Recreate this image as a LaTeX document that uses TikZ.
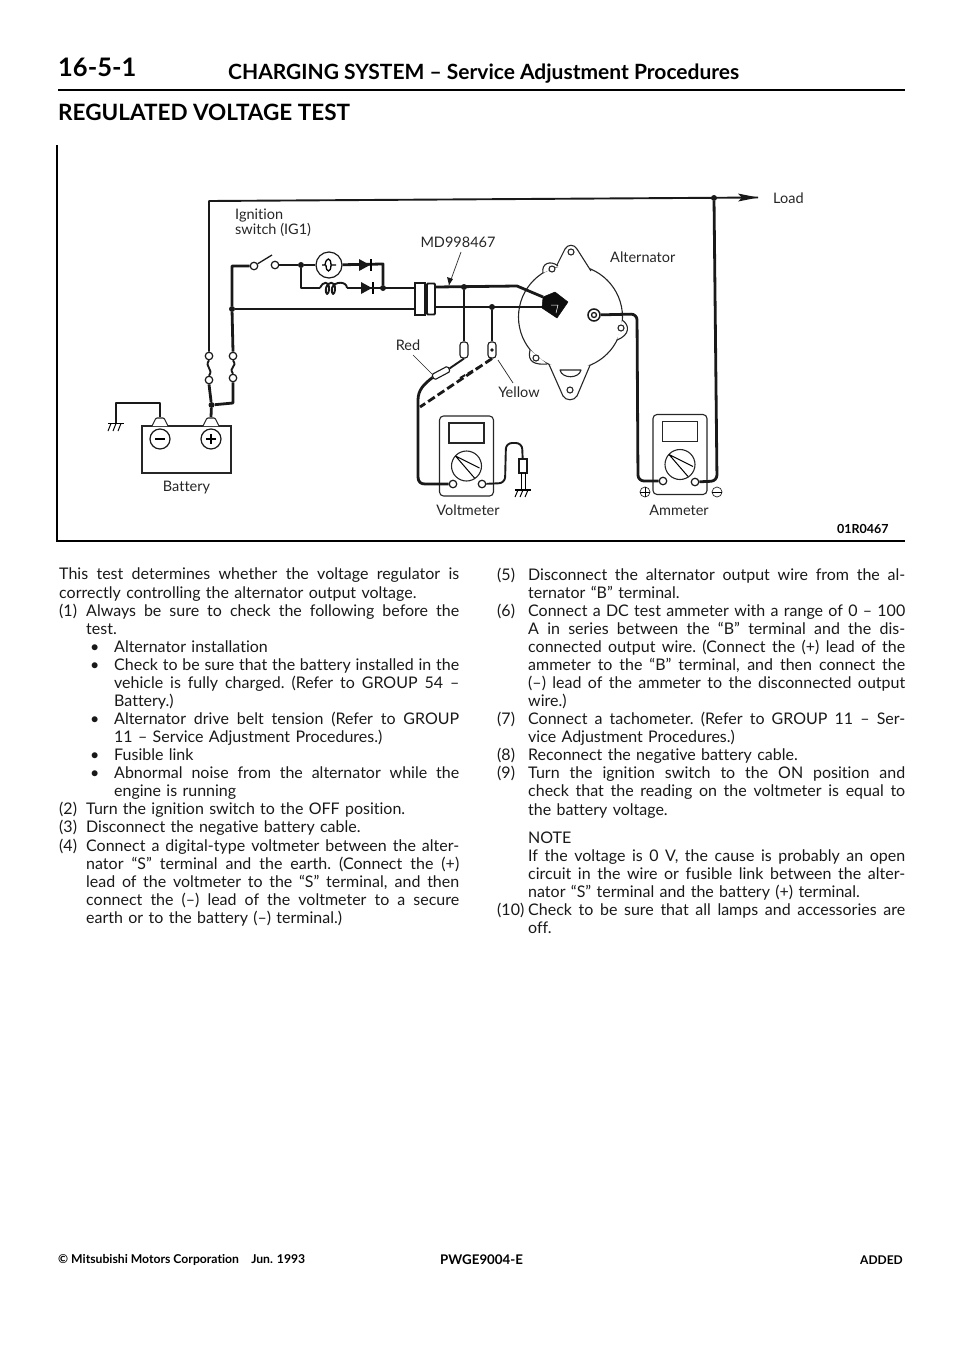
\documentclass[tikz,border=0pt]{standalone}
\usepackage{fontspec}
\setmainfont{Lato}[Ligatures={TeX,NoCommon}]
\usetikzlibrary{positioning,arrows.meta}
\newcommand{\bodyWidthA}{400pt}
\newcommand{\bodyWidthB}{408pt}
\newcommand{\looseSpace}{\spaceskip=.27em plus 2em minus .06em\xspaceskip=\spaceskip\relax}
% one printed line, stretched to the column or left loose
\newcommand{\jl}[2]{\hbox to \hsize{\looseSpace\hskip #1pt #2}}
\newcommand{\rl}[2]{\hbox to \hsize{\hskip #1pt #2\hfil}}
\newcommand{\numA}[1]{\makebox[27pt][l]{#1}}
\newcommand{\numB}[1]{\makebox[31pt][l]{#1}}
\newcommand{\bul}{\makebox[28pt][l]{\hskip4pt\textbullet}}
\newcommand{\ear}[1]{\fill[white] #1 -- cycle; \draw[outline] #1;}
\tikzset{
	wire/.style={line width=1.9pt, black!90, line join=round},
	heavywire/.style={line width=2.8pt, black!90, line join=round},
	thinline/.style={line width=.7pt, black!85},
	outline/.style={line width=1.1pt, black!85, line join=round},
	term/.style={circle, draw=black!90, fill=white, line width=1.2pt, minimum size=7.5pt, inner sep=0pt},
	junction/.style={circle, fill=black!90, minimum size=6pt, inner sep=0pt},
	tag/.style={font=\fontsize{14.5}{14.5}\selectfont, inner sep=0pt, black!85},
	printed/.style={inner sep=0pt, anchor=west, font=\bfseries\fontsize{#1}{#1}\selectfont},
	meterbox/.style={draw=black!85, line width=1.1pt, rounded corners=4pt, minimum width=54pt, minimum height=80pt, inner sep=0pt},
	display/.style={draw=black!85, line width=1.1pt, minimum width=35pt, minimum height=20pt, inner sep=0pt},
	dial/.style={circle, draw=black!85, line width=1.1pt, minimum size=30pt, inner sep=0pt},
	hole/.style={circle, draw=black!85, line width=1.1pt, fill=white, minimum size=6pt, inner sep=0pt},
	sign/.style={circle, draw=black!85, line width=.7pt, minimum size=10pt, inner sep=0pt},
	batsign/.style={circle, draw=black!90, line width=1.2pt, minimum size=20pt, inner sep=0pt},
	probe/.style={draw=black!90, fill=white, line width=1.1pt, rounded corners=3pt, rotate=90, minimum width=16pt, minimum height=8pt, inner sep=0pt},
	column/.style={inner sep=0pt, anchor=north west, text width=#1, font=\fontsize{16}{18.07}\selectfont, black!90},
}
\begin{document}
\begin{tikzpicture}[x=1pt, y=-1pt]
	\useasboundingbox (0,0) rectangle (960,1358);

	% page head
	\node[printed=25.5] (pageNo) at (58,67) {16-5-1};
	\node[printed=21] (headA) at (228,74) {CHARGING SYSTEM -- Service Adjustment Procedures};
	\coordinate (ruleL) at (58,90);
	\coordinate (ruleR) at (905,90);
	\draw[line width=2.2pt] (ruleL) -- (ruleR);
	\node[printed=22.5] (headB) at (58,112) {REGULATED VOLTAGE TEST};

	% frame of the figure
	\coordinate (frameT) at (57,145);
	\coordinate (frameC) at (57,541);
	\coordinate (frameR) at (905,541);
	\draw[line width=1.4pt] (frameT) -- (frameC) -- (frameR);
	\node[printed=12.5] (figNo) at (837,529) {01R0467};

	% battery
	\node[draw=black!85, line width=1.1pt, minimum width=89pt, minimum height=47pt, inner sep=0pt] (battery) at (186.5,449.5) {};
	\node[batsign] (batNeg) at (160,439) {};
	\node[batsign] (batPos) at (211,439) {};
	\draw[line width=1.4pt] (155,439) -- (165,439);
	\draw[line width=1.4pt] (206,439) -- (216,439) (211,434) -- (211,444);
	\foreach \tname/\tx in {tNeg/160, tPos/211}{
		\coordinate (\tname) at (\tx,417);
		\draw[thinline, line width=1.1pt, fill=white, rounded corners=1pt] (\tx-8,426) -- (\tx-4,418) -- (\tx+4,418) -- (\tx+8,426);
	}
	\node[tag, below=7pt of battery] (batteryLabel) {Battery};

	% earth at the battery
	\coordinate (eaTop) at (160,403);
	\coordinate (ebTop) at (116,403);
	\coordinate (earthA) at (116,423);
	\draw[wire] (tNeg) -- (eaTop) -- (ebTop) -- (earthA);
	\draw[line width=1.1pt] (108,423.5) -- (124,423.5);
	\foreach \ex in {111,116,121}{
		\draw[line width=1pt] (\ex,423.5) -- (\ex-3,431);
	}

	% fuses
	\node[term] (fuseA1) at (209,356) {};
	\node[term] (fuseA2) at (209,380) {};
	\node[term] (fuseB1) at (233,356) {};
	\node[term] (fuseB2) at (233,378) {};
	\draw[wire] (fuseA1.south) .. controls +(-5,7) and +(5,-7) .. (fuseA2.north);
	\draw[wire] (fuseB1.south) .. controls +(5,7) and +(-5,-7) .. (fuseB2.north);
	\node[junction] (batJoin) at (211.5,405) {};
	\coordinate (fuseBCorner) at (233,403);
	\draw[heavywire] (fuseA2.south) -- (batJoin) -- (tPos);
	\draw[heavywire] (fuseB2.south) -- (fuseBCorner) -- (batJoin);

	% main line to the load
	\coordinate (mainCorner) at (209,201);
	\coordinate (loadEnd) at (758,197.5);
	\node[junction] (loadJoin) at (714,198) {};
	\draw[wire] (fuseA1.north) -- (mainCorner) -- (loadEnd);
	\fill[black!90] (758,197.5) -- (738,193.5) -- (742,197.7) -- (738,201.5) -- cycle;
	\node[tag, anchor=west] (loadLabel) at (773,198) {Load};

	% ignition switch and charge lamp
	\node[tag, anchor=west, align=left] (ignLabel) at (235,223) {Ignition\\switch (IG1)};
	\coordinate (ignCorner) at (232,266);
	\node[junction] (lineJoin) at (232,309) {};
	\node[term] (swA) at (254,266) {};
	\node[term] (swB) at (275,265) {};
	\coordinate (swTip) at (272,255);
	\draw[heavywire] (fuseB1.north) -- (lineJoin) -- (ignCorner) -- (swA);
	\draw[wire, line width=1.3pt] (swA) -- (swTip);
	\node[junction] (lampJoin) at (301,265) {};
	\node[circle, draw=black!90, line width=1.2pt, minimum size=26pt, inner sep=0pt] (lamp) at (329,265) {};
	\draw[line width=1.3pt] (322,265) -- (325,265) .. controls (326,257) and (331,257) .. (331,265) .. controls (331,273) and (326,273) .. (326,265) (331,265) -- (336,265);
	\coordinate (diodeCorner) at (383,264);
	\node[junction] (diodeJoin) at (383,288) {};
	\draw[heavywire] (swB) -- (lampJoin) -- (lamp);
	\draw[heavywire] (lamp) -- (diodeCorner) -- (diodeJoin);
	\coordinate (coilCorner) at (301,288);
	\coordinate (coilA) at (320,288);
	\coordinate (coilB) at (347,288);
	\draw[heavywire] (lampJoin) -- (coilCorner) -- (coilA);
	\draw[wire] (coilA) .. controls (323,281) and (329,281) .. (329,288) .. controls (329,296) and (325,296) .. (326,288)
		.. controls (328,281) and (335,281) .. (335,288) .. controls (335,296) and (331,296) .. (332,288)
		.. controls (334,281) and (347,281) .. (coilB);
	\foreach \dname/\dx/\dy in {dUp/365/265, dLow/367/288}{
		\coordinate (\dname) at (\dx,\dy);
		\fill[black!90] (\dx-6,\dy-6) -- (\dx+5,\dy) -- (\dx-6,\dy+6) -- cycle;
		\draw[line width=1.8pt] (\dx+6,\dy-6) -- (\dx+6,\dy+6);
	}
	\draw[heavywire] (coilB) -- (dLow);

	% MD998467 in the harness
	\node[draw=black!90, line width=1.3pt, minimum width=10pt, minimum height=32pt, inner sep=0pt] (harnessA) at (420,299) {};
	\node[draw=black!90, line width=1.8pt, rounded corners=1pt, minimum width=8pt, minimum height=31pt, inner sep=0pt] (harnessB) at (431,299) {};
	\coordinate (plugTop) at (543,297);
	\coordinate (plugLow) at (543,307);
	\coordinate (wireBend) at (517,286);
	\node[junction] (redJoin) at (464,287) {};
	\node[junction] (yelJoin) at (492,307) {};
	\draw[heavywire] (dLow) -- (harnessA.west |- dLow);
	\draw[heavywire] (lineJoin) -- (harnessA.west |- lineJoin);
	\node[tag] (toolLabel) at (458,242) {MD998467};
	\coordinate (toolTip) at (449,285);
	\draw[thinline] (461,252) -- (toolTip);
	\fill[black!90] (toolTip) -- (447,277) -- (453,279) -- cycle;

	% alternator
	\node[circle, draw=black!85, line width=1.1pt, minimum size=104pt, inner sep=0pt] (alternator) at (570.5,317) {};
	\ear{(556,267) -- (565,249) .. controls (568,244) and (574,244) .. (577,249) -- (591,271)}
	\ear{(543,273) .. controls (541,263) and (551,260) .. (558,266)}
	\ear{(622,320) .. controls (630,325) and (630,335) .. (617,340)}
	\ear{(530,350) .. controls (527,362) and (535,365) .. (547,364)}
	\ear{(590,365.3) -- (577,396) .. controls (574,401) and (566,401) .. (563,396) -- (549,364.4)}
	\draw[outline] (560,370) -- (581,370) .. controls (579,379) and (562,379) .. (560,370) -- cycle;
	\foreach \hname/\hx/\hy in {holeT/571/252, holeL/552/269, holeR/621/328, holeS/536/358, holeB/570/390}{
		\node[hole] (\hname) at (\hx,\hy) {};
	}
	\node[tag, anchor=west] (altLabel) at (610,257) {Alternator};
	\draw[heavywire] (harnessB.east |- redJoin) -- (wireBend) -- (plugTop);
	\draw[heavywire] (harnessB.east |- yelJoin) -- (plugLow);
	\filldraw[black!95, line join=round, line width=.5pt] (543,297) -- (555,292) -- (568,302) -- (557,318) -- (542,308) -- cycle;
	\draw[white, line width=.5pt] (551,305) -- (558,305) -- (556,313);
	\node[circle, draw=black!90, line width=1.5pt, fill=white, minimum size=12pt, inner sep=0pt] (outA) at (594,315) {};
	\node[circle, draw=black!90, line width=1.3pt, minimum size=5pt, inner sep=0pt] (outB) at (594,315) {};

	% meters
	\foreach \mname/\mx/\my in {volt/466.5/456, amm/680/454.5}{
		\node[meterbox] (\mname Box) at (\mx,\my) {};
		\node[display] (\mname Disp) at (\mx,\my-23) {};
		\node[dial] (\mname Dial) at (\mx,\my+10) {};
		\draw[line width=1pt] (\mx-11,\my) -- (\mx+13,\my+12) (\mx-11,\my) -- (\mx+8,\my+22);
	}
	\node[term] (voltA) at (453,484) {};
	\node[term] (voltB) at (482,484) {};
	\node[term] (ammA) at (663,481) {};
	\node[term] (ammB) at (695,482) {};
	\node[tag] (voltLabel) at (468,510) {Voltmeter};
	\node[tag] (ammLabel) at (679,510) {Ammeter};
	\node[sign] (ammPlus) at (645,492) {};
	\node[sign] (ammMinus) at (717,492) {};
	\draw[line width=.7pt] (640,492) -- (650,492) (645,487) -- (645,497) (712,492) -- (722,492);

	% alternator output through the ammeter
	\coordinate (outCorner) at (637,314);
	\coordinate (ammInCorner) at (638,481);
	\coordinate (ammOutCorner) at (717,481);
	\draw[heavywire, rounded corners=6pt] (outA) -- (outCorner) -- (ammInCorner) -- (ammA);
	\draw[heavywire, rounded corners=6pt] (ammB) -- (ammOutCorner) -- (loadJoin);

	% voltmeter leads
	\node[probe] (probeRed) at (464,350) {};
	\node[probe] (probeYel) at (492,350) {};
	\fill[black!90] (492,350) circle (1.8pt);
	\draw[heavywire] (redJoin) -- (probeRed);
	\draw[heavywire] (yelJoin) -- (probeYel);
	\coordinate (leadBendA) at (418,400);
	\coordinate (leadBendB) at (418,477);
	\node[draw=black!90, fill=white, line width=1.1pt, rounded corners=1.5pt, rotate=28, minimum width=18pt, minimum height=6pt, inner sep=0pt] (redBody) at (441,373) {};
	\draw[wire] (probeRed.west) -- (redBody.east);
	\draw[heavywire] (redBody.west) .. controls (424,384) and (418,390) .. (leadBendA) -- (leadBendB) .. controls (418,482) and (421,484) .. (425,484) -- (voltA);
	\coordinate (dashEnd) at (420,407);
	\draw[heavywire, dash pattern=on 8pt off 3.5pt] (probeYel.west) -- (dashEnd);
	\draw[wire, dash pattern=on 6pt off 3pt] (460,378) -- (479,367);
	\node[tag] (redLabel) at (408,345) {Red};
	\draw[thinline] (413,355) -- (433,375);
	\node[tag] (yelLabel) at (519,392) {Yellow};
	\draw[thinline] (498,360) -- (513,383);
	% lead of the voltmeter to earth
	\node[draw=black!90, line width=1.1pt, minimum width=8pt, minimum height=14pt, inner sep=0pt] (earthPlug) at (523,466) {};
	\coordinate (earthB) at (523,489);
	\draw[wire, rounded corners=6pt] (voltB) -- (505,483) -- (506,443) -- (522,443) -- (earthPlug);
	\draw[line width=1pt] (521,473) -- (521,489) (525,473) -- (525,489);
	\draw[line width=1.1pt] (515,490) -- (531,490);
	\foreach \ex in {518,523,528}{
		\draw[line width=1pt] (\ex,490) -- (\ex-3,497);
	}

	% text columns
	\node[column=\bodyWidthA] (leftText) at (59,568) {%
		\jl{0}{This test determines whether the voltage regulator is}
		\rl{0}{correctly controlling the alternator output voltage.}
		\jl{0}{\numA{(1)}Always be sure to check the following before the}
		\rl{27}{test.}
		\rl{27}{\bul Alternator installation}
		\jl{27}{\bul Check to be sure that the battery installed in the}
		\jl{55}{vehicle is fully charged. (Refer to GROUP 54 --}
		\rl{55}{Battery.)}
		\jl{27}{\bul Alternator drive belt tension (Refer to GROUP}
		\rl{55}{11 -- Service Adjustment Procedures.)}
		\rl{27}{\bul Fusible link}
		\jl{27}{\bul Abnormal noise from the alternator while the}
		\rl{55}{engine is running}
		\rl{0}{\numA{(2)}Turn the ignition switch to the OFF position.}
		\rl{0}{\numA{(3)}Disconnect the negative battery cable.}
		\jl{0}{\numA{(4)}Connect a digital-type voltmeter between the alter-}
		\jl{27}{nator ``S'' terminal and the earth. (Connect the (+)}
		\jl{27}{lead of the voltmeter to the ``S'' terminal, and then}
		\jl{27}{connect the (--) lead of the voltmeter to a secure}
		\rl{27}{earth or to the battery (--) terminal.)}
	};
	\node[column=\bodyWidthB] (rightText) at (497,567.5) {%
		\jl{0}{\numB{(5)}Disconnect the alternator output wire from the al-}
		\rl{31}{ternator ``B'' terminal.}
		\jl{0}{\numB{(6)}Connect a DC test ammeter with a range of 0 -- 100}
		\jl{31}{A in series between the ``B'' terminal and the dis-}
		\jl{31}{connected output wire. (Connect the (+) lead of the}
		\jl{31}{ammeter to the ``B'' terminal, and then connect the}
		\jl{31}{(--) lead of the ammeter to the disconnected output}
		\rl{31}{wire.)}
		\jl{0}{\numB{(7)}Connect a tachometer. (Refer to GROUP 11 -- Ser-}
		\rl{31}{vice Adjustment Procedures.)}
		\rl{0}{\numB{(8)}Reconnect the negative battery cable.}
		\jl{0}{\numB{(9)}Turn the ignition switch to the ON position and}
		\jl{31}{check that the reading on the voltmeter is equal to}
		\rl{31}{the battery voltage.}
		\vskip 10pt
		\rl{31}{NOTE}
		\jl{31}{If the voltage is 0 V, the cause is probably an open}
		\jl{31}{circuit in the wire or fusible link between the alter-}
		\rl{31}{nator ``S'' terminal and the battery (+) terminal.}
		\jl{0}{\numB{(10)}Check to be sure that all lamps and accessories are}
		\rl{31}{off.}
	};

	% page foot
	\node[printed=12.2] (footA) at (58,1260) {\textcopyright\ Mitsubishi Motors Corporation\quad Jun. 1993};
	\node[printed=13.3] (footB) at (440,1260) {PWGE9004-E};
	\node[printed=12, anchor=east] (footC) at (903,1260) {ADDED};
\end{tikzpicture}
\end{document}
